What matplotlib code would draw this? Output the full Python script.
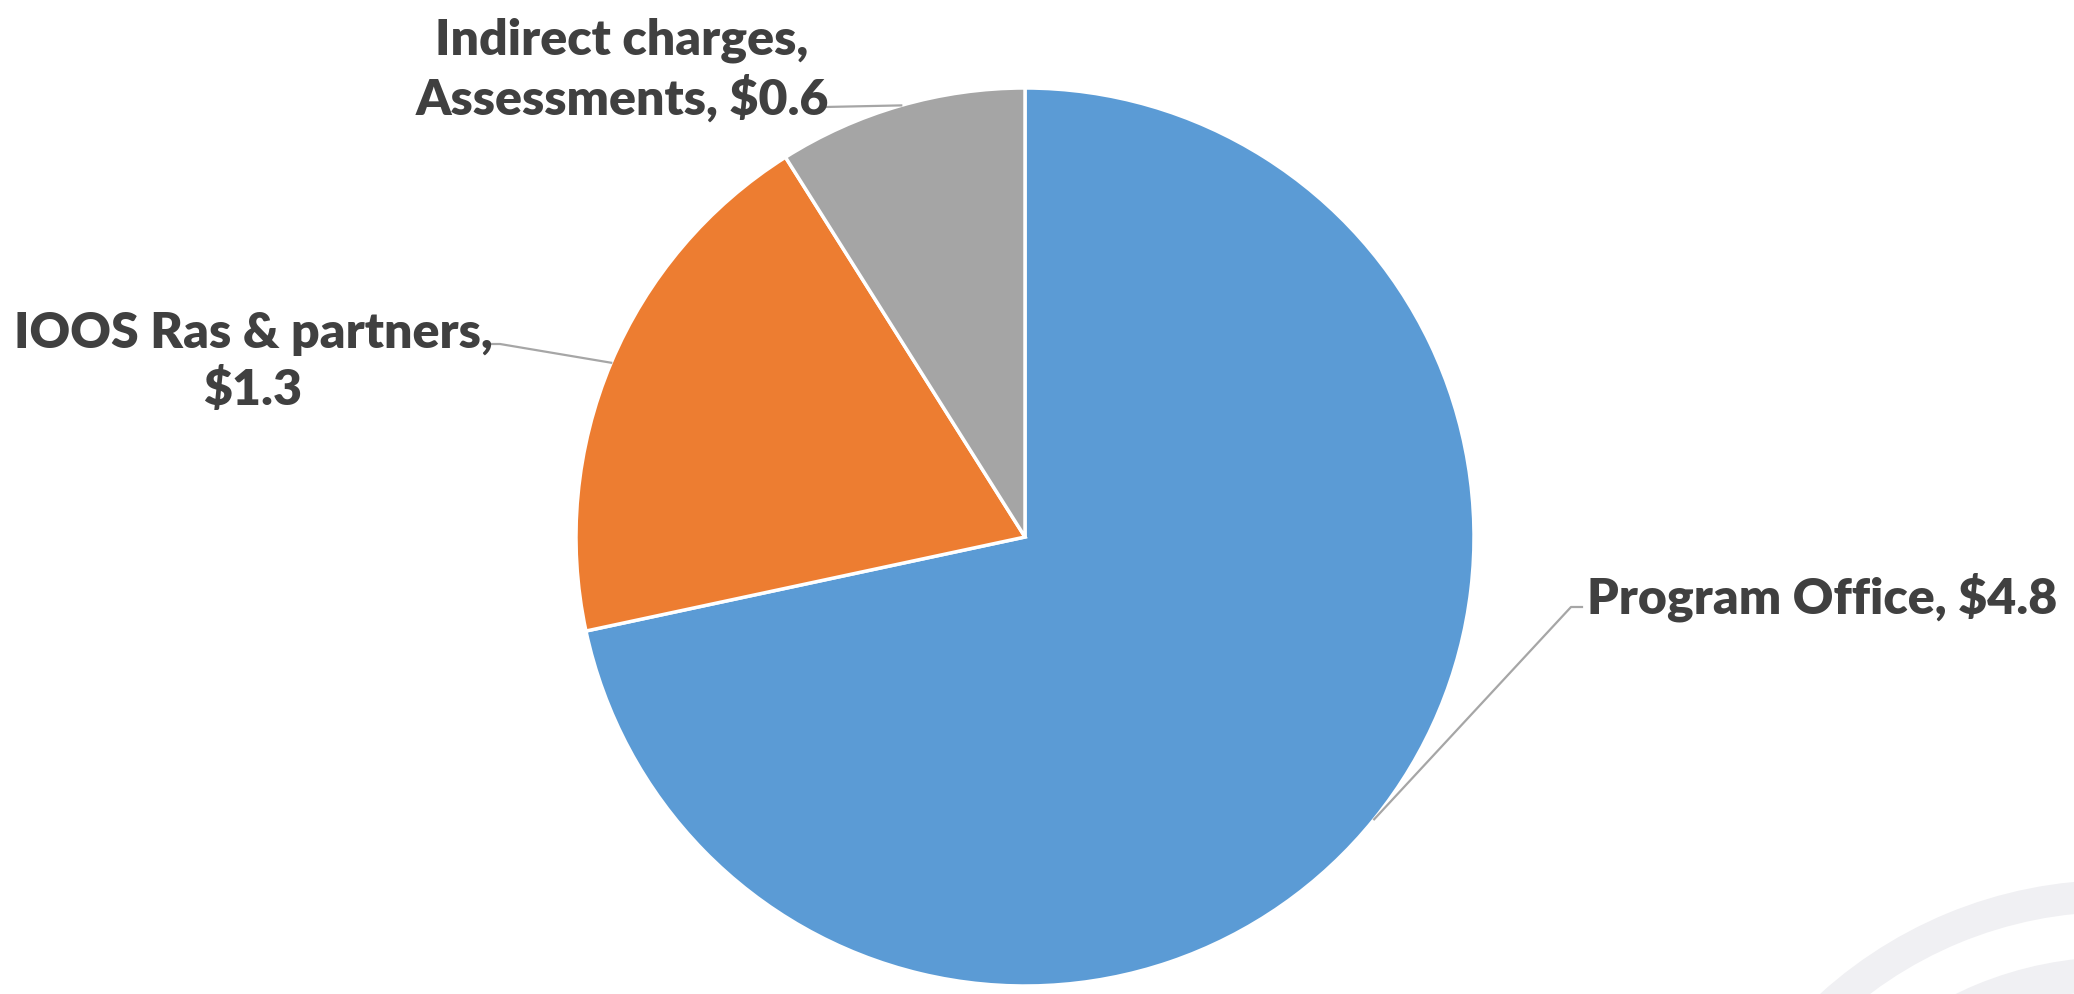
import matplotlib
matplotlib.use("Agg")
import matplotlib.pyplot as plt
from matplotlib.patches import Wedge
import numpy as np

# ---- data ----
categories = ["Program Office", "IOOS Ras & partners", "Indirect charges,\nAssessments"]
values = [4.8, 1.3, 0.6]
colors = ["#5B9BD5", "#ED7D31", "#A5A5A5"]
label_texts = ["Program Office, $4.8", "IOOS Ras & partners,\n$1.3", "Indirect charges,\nAssessments, $0.6"]

W, H = 2074, 995
DPI = 100
fig = plt.figure(figsize=(W / DPI, H / DPI), dpi=DPI)
fig.patch.set_facecolor("white")
ax = fig.add_axes([0, 0, 1, 1])

def Y(y):  # image row -> data y
    return H - y

# decorative rings bottom-right
ring_c = (2115, Y(1320))
for r_out, w in [(439, 32), (362, 34)]:
    ax.add_patch(Wedge(ring_c, r_out, 0, 360, width=w, facecolor="#F0F0F3", edgecolor="none", zorder=0))

cx, cy, R = 1025, Y(538), 449
wedges, _ = ax.pie(values, colors=colors, startangle=90, counterclock=False,
                   center=(cx, cy), radius=R,
                   wedgeprops=dict(edgecolor="white", linewidth=2.5))
ax.set_xlim(0, W)
ax.set_ylim(0, H)
ax.set_aspect("equal")
ax.axis("off")

font = dict(family="Lato", weight="heavy", color="#404040")
# fit font size so that the Program Office label is ~472 px wide
t = ax.text(0, 0, label_texts[0], fontsize=40, **font)
fig.canvas.draw()
w40 = t.get_window_extent().width
t.remove()
fs = 40 * 470 / w40

line_kw = dict(color="#A6A6A6", linewidth=1.6, zorder=1)

def edge_pt(angle_deg):
    a = np.deg2rad(angle_deg)
    return cx + R * np.cos(a), cy + R * np.sin(a)

# Program Office (leader at wedge mid-angle)
w0 = wedges[0]
mid0 = (w0.theta1 + w0.theta2) / 2
ex, ey = edge_pt(mid0)
ax.plot([ex, 1571, 1582], [ey, Y(608), Y(608)], **line_kw)
ax.text(1587, Y(597), label_texts[0], fontsize=fs, ha="left", va="center", **font)

# IOOS
w1 = wedges[1]
mid1 = (w1.theta1 + w1.theta2) / 2
ex, ey = edge_pt(mid1)
ax.plot([490, 500, ex], [Y(345), Y(345), ey], **line_kw)
ax.text(253, Y(362), label_texts[1], fontsize=fs, ha="center", va="center",
        multialignment="center", linespacing=1.3, **font)

# Indirect charges
ex, ey = edge_pt(106)
ax.plot([825, ex], [Y(108), ey], **line_kw)
ax.text(622, Y(70), label_texts[2], fontsize=fs, ha="center", va="center",
        multialignment="center", linespacing=1.3, **font)

fig.savefig("out.png", dpi=DPI, facecolor="white")
